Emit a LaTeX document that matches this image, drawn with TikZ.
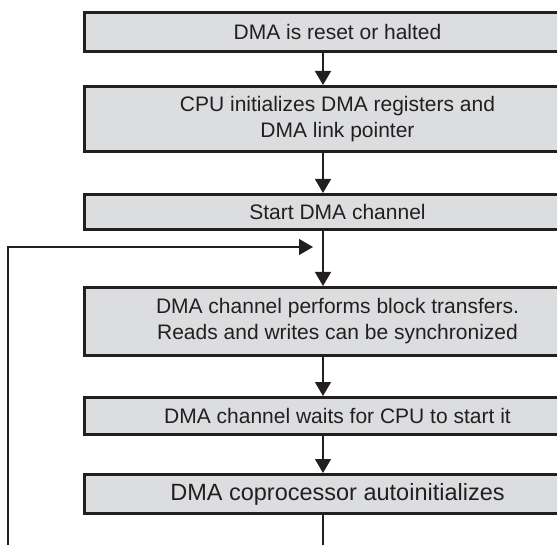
\documentclass[tikz,border=0pt]{standalone}
\usepackage{fontspec}
\setmainfont{Liberation Sans}
\usetikzlibrary{arrows.meta}
\definecolor{boxfill}{RGB}{220,221,223}
\definecolor{ink}{RGB}{35,31,32}
\tikzset{
  flowbox/.style={draw=ink, fill=boxfill, line width=3pt, rectangle,
    minimum width=507pt, inner sep=0pt, align=center, text=ink,
    font=\fontsize{21}{26}\selectfont},
  conn/.style={draw=ink, line width=1.3pt, -{Triangle[width=16pt,length=14pt]}},
  plainline/.style={draw=ink, line width=1.3pt}
}
\begin{document}
\begin{tikzpicture}[x=1pt,y=-1pt]
\useasboundingbox (0,0) rectangle (557,545);
\clip (0,0) rectangle (557,545);
\node[flowbox, minimum height=39pt] (b1) at (337.5,32) {DMA is reset or halted};
\node[flowbox, minimum height=65pt] (b2) at (337.5,119) {CPU initializes DMA registers and\\DMA link pointer};
\node[flowbox, minimum height=35pt] (b3) at (337.5,212) {Start DMA channel};
\node[flowbox, minimum height=68pt] (b4) at (337.5,321.5) {DMA channel performs block transfers.\\Reads and writes can be synchronized};
\node[flowbox, minimum height=37pt] (b5) at (337.5,416) {DMA channel waits for CPU to start it};
\node[flowbox, minimum height=39pt, font=\fontsize{23.5}{28}\selectfont] (b6) at (337.5,494) {DMA coprocessor autoinitializes};
\coordinate (col) at (323,0);
\coordinate (j) at (323,247);
\coordinate (bl) at (8,545);
\coordinate (bb) at (323,545);
\draw[conn] (b1.south -| col) -- (b2.north -| col);
\draw[conn] (b2.south -| col) -- (b3.north -| col);
\draw[conn] (b3.south -| col) -- (b4.north -| col);
\draw[conn] (b4.south -| col) -- (b5.north -| col);
\draw[conn] (b5.south -| col) -- (b6.north -| col);
\draw[plainline] (b6.south -| col) -- (bb);
\draw[conn, shorten >=10pt] (bl) |- (j);
\end{tikzpicture}
\end{document}
